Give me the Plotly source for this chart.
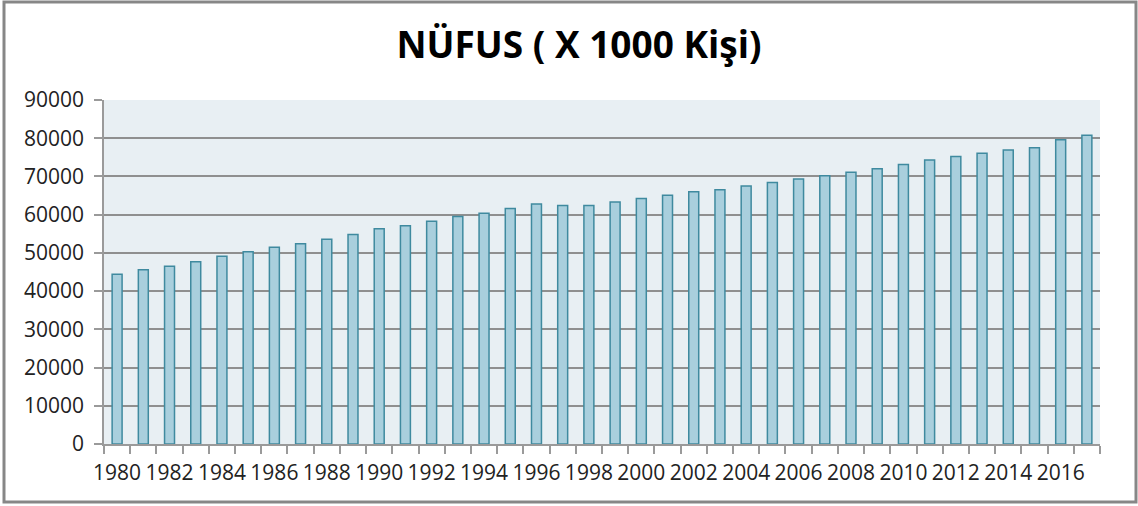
import plotly.graph_objects as go

# yillar ve nufus (x 1000 kisi)
years = list(range(1980, 2018))
population = [
    44400, 45600, 46500, 47700, 49100, 50300, 51500, 52400, 53600, 54800,
    56300, 57100, 58300, 59500, 60400, 61600, 62800, 62400, 62400, 63300,
    64200, 65100, 66000, 66500, 67500, 68400, 69300, 70200, 71100, 72000,
    73100, 74300, 75200, 76100, 76900, 77500, 79600, 80800,
]
label_years = list(range(1980, 2017, 2))
y_ticks = list(range(0, 90001, 10000))

W, H = 1138, 506
ML, MR, MT, MB = 104, 38, 100, 62
PW = W - ML - MR
PH = H - MT - MB

fig = go.Figure()

fig.add_trace(go.Bar(
    x=years,
    y=population,
    width=0.38,
    marker=dict(color='#A9CFDD', line=dict(color='#3F8A9F', width=1.5)),
    hoverinfo='x+y',
))

fig.update_layout(
    width=W,
    height=H,
    margin=dict(l=ML, r=MR, t=MT, b=MB),
    paper_bgcolor='white',
    plot_bgcolor='#E8EFF3',
    showlegend=False,
    font=dict(family='Open Sans, Noto Sans, sans-serif', size=21, color='#222222'),
    title=dict(
        text='NÜFUS ( X 1000 Kişi)',
        font=dict(family='Open Sans, Noto Sans, sans-serif', size=37, color='black', weight='bold'),
        x=579 / W, xref='container', xanchor='center',
        y=1 - 45 / H, yref='container', yanchor='middle',
    ),
    xaxis=dict(
        range=[1979.5, 2017.5],
        tickmode='array',
        tickvals=label_years,
        ticktext=[str(y) for y in label_years],
        tickangle=0,
        ticklabelstandoff=9,
        automargin=False,
        ticks='',
        showgrid=False,
        zeroline=False,
        showline=True,
        linecolor='#9A9A9A',
        linewidth=1.5,
        minor=dict(ticks='outside', tick0=1979.5, dtick=1, ticklen=8,
                   tickcolor='#9A9A9A', tickwidth=1.5, showgrid=False),
        tickfont=dict(size=21),
    ),
    yaxis=dict(
        range=[0, 90000],
        tickmode='array',
        tickvals=y_ticks,
        tickformat='d',
        ticklabelstandoff=6,
        automargin=False,
        ticks='outside',
        ticklen=8,
        tickcolor='#9A9A9A',
        tickwidth=1.5,
        showgrid=True,
        gridcolor='#8F8F8F',
        gridwidth=1.5,
        zeroline=False,
        showline=True,
        linecolor='#9A9A9A',
        linewidth=1.5,
        tickfont=dict(size=21),
    ),
)

# dis cerceve
fig.add_shape(
    type='rect', xref='paper', yref='paper',
    x0=(4 - ML) / PW, x1=(1136 - ML) / PW,
    y0=(MT + PH - 502) / PH, y1=(MT + PH - 2) / PH,
    line=dict(color='#878787', width=3),
    fillcolor='rgba(0,0,0,0)',
)

# sayfa kenar boslugunu kaldir
fig.write_html('out.html', config={'displayModeBar': False},
               post_script="document.body.style.margin='0';")
